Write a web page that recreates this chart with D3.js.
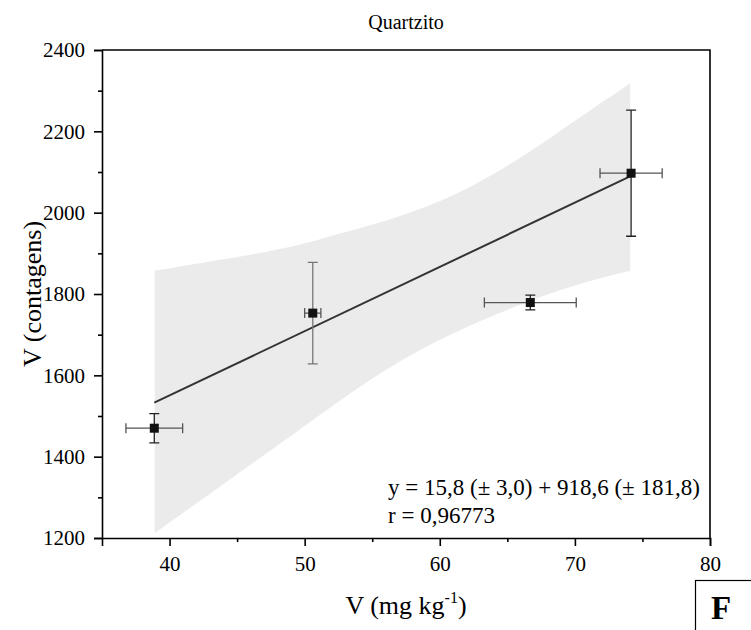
<!DOCTYPE html>
<html>
<head>
<meta charset="utf-8">
<script src="https://cdn.jsdelivr.net/npm/d3@7"></script>
<style>
  body { margin: 0; background: #fff; }
  svg { display: block; font-family: 'Liberation Serif', 'Times New Roman', serif; }
</style>
</head>
<body>
<div id="chart"></div>
<script>
// measured points (V mg/kg vs V counts)
const xVals = [38.87, 50.6, 66.7, 74.16];
const yVals = [1470, 1753, 1779, 2097];
const xErr = [2.1, 0.6, 3.4, 2.3];
const yErr = [36, 125, 18, 155];

// linear fit y = a*x + b
const slope = 15.8;
const intercept = 918.6;

// 95% confidence band
const bandUpper = [[38.9, 1857], [42.8, 1879], [47.1, 1902], [50.2, 1925], [52.6, 1949], [56.3, 1982], [60.5, 2031], [65.5, 2121], [70.4, 2236], [74.1, 2318]];
const bandLower = [[38.9, 1212], [44.0, 1333], [50.2, 1480], [55.6, 1610], [60.5, 1699], [66.2, 1779], [70.4, 1827], [74.1, 1857]];

const xTicks = [40, 50, 60, 70, 80];
const yTicks = [1200, 1400, 1600, 1800, 2000, 2200, 2400];

const width = 751;
const height = 630;
const margin = { top: 50, right: 41, bottom: 92, left: 102 };

const svg = d3.select('#chart')
  .append('svg')
  .attr('width', width)
  .attr('height', height);

const x = d3.scaleLinear().domain([35, 80]).range([margin.left, width - margin.right]);
const y = d3.scaleLinear().domain([1200, 2400]).range([height - margin.bottom, margin.top]);

// confidence band
const edge = d3.line()
  .x((d) => x(d[0]))
  .y((d) => y(d[1]))
  .curve(d3.curveBasis);
const upPath = edge(bandUpper);
const lowPath = edge(bandLower.slice().reverse());
svg.append('path')
  .attr('d', upPath + 'L' + lowPath.slice(1) + 'Z')
  .attr('fill', '#ebebeb');

// fit line across data range
const xr = d3.extent(xVals);
svg.append('line')
  .attr('x1', x(xr[0]))
  .attr('x2', x(xr[1]))
  .attr('y1', y(slope * xr[0] + intercept))
  .attr('y2', y(slope * xr[1] + intercept))
  .attr('stroke', '#333')
  .attr('stroke-width', 2);

// error bars
const pts = xVals.map((v, i) => ({ x: v, y: yVals[i], ex: xErr[i], ey: yErr[i] }));
const eb = svg.append('g').attr('stroke-width', 1.3).attr('fill', 'none');
const cap = 5;
pts.forEach((p, i) => {
  const cx = x(p.x);
  const cy = y(p.y);
  const vCol = i === 1 ? '#777' : '#222';
  const hCol = '#555';
  const yt = y(p.y + p.ey);
  const yb = y(p.y - p.ey);
  const xl = x(p.x - p.ex);
  const xrr = x(p.x + p.ex);
  eb.append('path')
    .attr('stroke', vCol)
    .attr('d', `M${cx},${yt}V${yb}M${cx - cap},${yt}H${cx + cap}M${cx - cap},${yb}H${cx + cap}`);
  eb.append('path')
    .attr('stroke', hCol)
    .attr('d', `M${xl},${cy}H${xrr}M${xl},${cy - cap}V${cy + cap}M${xrr},${cy - cap}V${cy + cap}`);
});

// markers
svg.append('g')
  .selectAll('rect')
  .data(pts)
  .join('rect')
  .attr('x', (d) => x(d.x) - 4.5)
  .attr('y', (d) => y(d.y) - 4.5)
  .attr('width', 9)
  .attr('height', 9)
  .attr('fill', '#111');

// axes
const tickFont = 21;
const xAxis = svg.append('g')
  .attr('transform', `translate(0,${height - margin.bottom})`)
  .call(d3.axisBottom(x).tickValues(xTicks).tickSize(8).tickPadding(10).tickFormat(d3.format('d')));
xAxis.append('g')
  .call(d3.axisBottom(x).tickValues(d3.range(45, 80, 10)).tickSize(4).tickFormat(''))
  .select('.domain').remove();

const yAxis = svg.append('g')
  .attr('transform', `translate(${margin.left},0)`)
  .call(d3.axisLeft(y).tickValues(yTicks).tickSize(8).tickPadding(9).tickFormat(d3.format('d')));
yAxis.append('g')
  .call(d3.axisLeft(y).tickValues(d3.range(1300, 2400, 200)).tickSize(4).tickFormat(''))
  .select('.domain').remove();

[xAxis, yAxis].forEach((g) => {
  g.selectAll('path, line').attr('stroke', '#000').attr('stroke-width', 1.6);
  g.selectAll('text')
    .attr('fill', '#000')
    .style('font-family', "'Liberation Serif', serif")
    .style('font-size', tickFont + 'px');
});

// top and right frame
svg.append('path')
  .attr('d', `M${margin.left},${margin.top}H${width - margin.right}V${height - margin.bottom}`)
  .attr('fill', 'none')
  .attr('stroke', '#000')
  .attr('stroke-width', 1.6);

// title
svg.append('text')
  .attr('x', (margin.left + width - margin.right) / 2)
  .attr('y', 29)
  .attr('text-anchor', 'middle')
  .style('font-size', '20px')
  .text('Quartzito');

// axis titles
svg.append('text')
  .attr('transform', `translate(41,${(margin.top + height - margin.bottom) / 2}) rotate(-90)`)
  .attr('text-anchor', 'middle')
  .style('font-size', '26px')
  .text('V (contagens)');

const xl = svg.append('text')
  .attr('x', (margin.left + width - margin.right) / 2)
  .attr('y', 614)
  .attr('text-anchor', 'middle')
  .style('font-size', '26px');
xl.append('tspan').text('V (mg kg');
xl.append('tspan').attr('dy', -11).style('font-size', '16px').text('-1');
xl.append('tspan').attr('dy', 11).text(')');

// equation
svg.append('text')
  .attr('x', 388)
  .attr('y', 495)
  .style('font-size', '23px')
  .text('y = 15,8 (± 3,0) + 918,6 (± 181,8)');
svg.append('text')
  .attr('x', 388)
  .attr('y', 523)
  .style('font-size', '23px')
  .text('r = 0,96773');

// panel letter box
svg.append('rect')
  .attr('x', 695.5)
  .attr('y', 580.5)
  .attr('width', 60)
  .attr('height', 60)
  .attr('fill', 'none')
  .attr('stroke', '#000')
  .attr('stroke-width', 1.2);
svg.append('text')
  .attr('x', 721)
  .attr('y', 619)
  .attr('text-anchor', 'middle')
  .style('font-size', '33px')
  .style('font-weight', 'bold')
  .text('F');
</script>
</body>
</html>
